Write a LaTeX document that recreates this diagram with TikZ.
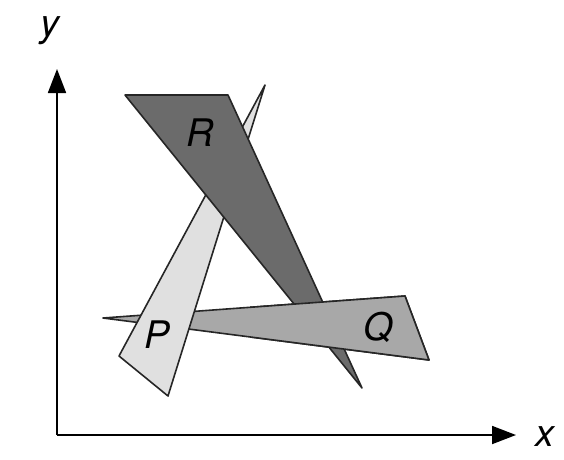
\documentclass[tikz,border=0pt]{standalone}
\usepackage{fontspec}
\setmainfont{TeX Gyre Heros}
\usetikzlibrary{arrows.meta}
\definecolor{rgray}{gray}{0.42}
\definecolor{qgray}{gray}{0.66}
\definecolor{pgray}{gray}{0.88}
\tikzset{
  plate/.style={draw=black!85, line width=1.6pt, line join=round},
  axis/.style={line width=1.8pt, -{Triangle[length=24pt,width=18pt]}},
  lbl/.style={font=\fontsize{38}{38}\selectfont\itshape, inner sep=0pt},
}
\begin{document}
\begin{tikzpicture}[x=1pt,y=-1pt]
\useasboundingbox (0,0) rectangle (564,459);
% vertices
\coordinate (R1) at (125,95);
\coordinate (R2) at (228,95);
\coordinate (R3) at (362,388);
\coordinate (P1) at (265,85);
\coordinate (P2) at (119,356);
\coordinate (P3) at (168,396);
\coordinate (Q1) at (103,318);
\coordinate (Q2) at (405,296);
\coordinate (Q3) at (429,360);
\coordinate (O) at (57,435);
\coordinate (Y) at (57,69);
\coordinate (X) at (516,435);
% axes
\draw[axis] (O) -- (Y);
\draw[axis] (O) -- (X);
\node[lbl] (ylab) at (50,31) {y};
\node[lbl] (xlab) at (545,437) {x};
% plates (cyclic overlap: Q under P, P under R, R under Q)
\filldraw[plate, fill=qgray] (Q1) -- (Q2) -- (Q3) -- cycle;
\filldraw[plate, fill=pgray] (P1) -- (P2) -- (P3) -- cycle;
\filldraw[plate, fill=rgray] (R1) -- (R2) -- (R3) -- cycle;
\begin{scope}
\clip (250,250) rectangle (460,410);
\filldraw[plate, fill=qgray] (Q1) -- (Q2) -- (Q3) -- cycle;
\end{scope}
\node[lbl] (rlab) at (200,133) {R};
\node[lbl] (plab) at (157,335) {P};
\node[lbl] (qlab) at (378,327) {Q};
\end{tikzpicture}
\end{document}
